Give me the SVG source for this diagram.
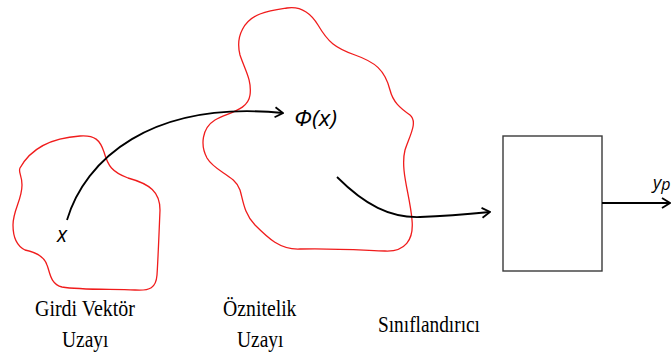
<svg xmlns="http://www.w3.org/2000/svg" width="672" height="354" viewBox="0 0 672 354">
<style>
.blob{fill:none;stroke:#f01c1c;stroke-width:1.3}
.conn{fill:none;stroke:#000;stroke-width:1.8}
.box{fill:#fff;stroke:#3a3a3a;stroke-width:1.4}
.lbl{font-family:"Liberation Serif","Times New Roman",serif;font-size:23px;fill:#000}
.math{font-family:"Open Sans","Liberation Sans",sans-serif;font-style:italic;fill:#000}
</style>
<defs>
<marker id="arr" viewBox="0 0 10 12" refX="9" refY="6" markerWidth="10" markerHeight="12" markerUnits="userSpaceOnUse" orient="auto">
<path d="M1,1 L9,6 L1,11" fill="none" stroke="#000" stroke-width="1.8"/>
</marker>
</defs>
<rect width="672" height="354" fill="#fff"/>
<g id="input-space">
<path class="blob" d="M20,168 C30,150 50,138 80,136 C95,135 100,140 104,152 C108,166 112,172 128,178 C150,184 160,192 160,210 C159,235 158,260 157,275 C156,288 150,291 135,290 C110,289 80,290 62,287 C50,284 50,272 47,265 C44,256 35,252 25,250 C15,245 13,235 13,225 C13,210 22,200 22,185 C22,175 18,172 20,168 Z"/>
<text class="math" x="62" y="242" font-size="21" text-anchor="middle">x</text>
<text class="lbl" x="35" y="316" textLength="100" lengthAdjust="spacingAndGlyphs">Girdi Vektör</text>
<text class="lbl" x="62" y="347" textLength="46.5" lengthAdjust="spacingAndGlyphs">Uzayı</text>
</g>
<g id="feature-space">
<path class="blob" d="M287,8 C300,6 310,12 318,25 C328,42 335,48 355,55 C375,62 385,70 390,90 C393,102 400,108 410,115 C418,122 410,135 405,150 C400,170 410,195 412,220 C414,240 405,252 385,251 C360,250 330,248 300,249 C280,250 268,238 255,225 C244,214 243,200 240,190 C235,175 215,172 207,158 C200,145 202,128 215,120 C230,112 248,110 250,95 C252,80 245,70 240,55 C235,35 245,20 260,14 C270,10 280,9 287,8 Z"/>
<text class="math" x="294" y="126" font-size="22" textLength="43" lengthAdjust="spacingAndGlyphs">Φ(x)</text>
<text class="lbl" x="223" y="316" textLength="73.5" lengthAdjust="spacingAndGlyphs">Öznitelik</text>
<text class="lbl" x="237" y="347" textLength="46.5" lengthAdjust="spacingAndGlyphs">Uzayı</text>
</g>
<g id="classifier">
<rect class="box" x="503" y="136" width="99" height="135"/>
<text class="lbl" x="378" y="332" textLength="102" lengthAdjust="spacingAndGlyphs">Sınıflandırıcı</text>
<text class="math" x="653" y="189" font-size="18">y<tspan font-size="16" dy="1">p</tspan></text>
</g>
<g id="connectors">
<path class="conn" marker-end="url(#arr)" d="M67,220 C85,160 150,100 283,113"/>
<path class="conn" marker-end="url(#arr)" d="M337,177 C365,205 390,218 420,217 C450,216 470,214 490,212"/>
<path class="conn" marker-end="url(#arr)" d="M602,203 L670,203"/>
</g>
</svg>
